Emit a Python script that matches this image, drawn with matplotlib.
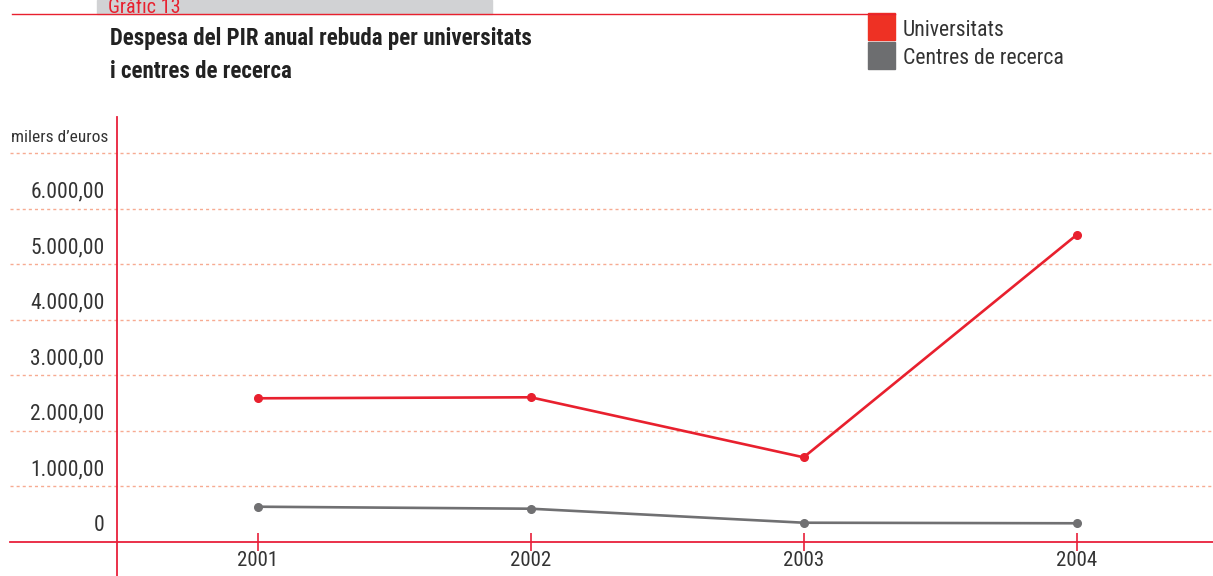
import matplotlib
matplotlib.use("Agg")
import matplotlib.pyplot as plt
from matplotlib import font_manager
from matplotlib.transforms import ScaledTranslation
from matplotlib.patches import Rectangle

# ---- data ----
years = ["2001", "2002", "2003", "2004"]
universitats = [2586, 2604, 1524, 5525]
centres = [635, 599, 347, 337]
ytick_values = [0, 1000, 2000, 3000, 4000, 5000, 6000]
ytick_labels = ["0", "1.000,00", "2.000,00", "3.000,00", "4.000,00", "5.000,00", "6.000,00"]
grid_values = [1000, 2000, 3000, 4000, 5000, 6000, 7000]
title = "Despesa del PIR anual rebuda per universitats\ni centres de recerca"
series_names = ["Universitats", "Centres de recerca"]

# ---- font ----
available = {f.name for f in font_manager.fontManager.ttflist}
family = "DejaVu Sans"
stretch = "condensed"
for cand in ["Roboto Condensed", "Liberation Sans Narrow", "Open Sans Condensed", "DejaVu Sans Condensed"]:
    if cand in available:
        family = cand
        stretch = "normal"
        break
plt.rcParams["font.family"] = [family, "DejaVu Sans"]
plt.rcParams["font.stretch"] = stretch

RED = "#e8202e"
AXRED = "#e8203a"
GREY = "#707072"
GRID = "#f7ab92"
TXT = "#333333"

W, H = 1213, 576
fig = plt.figure(figsize=(W / 100, H / 100), dpi=100)
ax = fig.add_axes([117 / W, (H - 542) / H, (W - 117) / W, (542 - 117) / H])

x = list(range(len(years)))
ax.set_xlim(-0.516, 3.5)
ax.set_ylim(0, 7648)

# gridlines extending left beyond the axis
ytr = ax.get_yaxis_transform()
x_left = (10 - 117) / (W - 117)
for v in grid_values:
    ax.plot([x_left, 1], [v, v], transform=ytr, clip_on=False, color=GRID,
            lw=1.0, dashes=(2.2, 2.2), zorder=1)
# baseline
ax.plot([x_left, 1], [0, 0], transform=ytr, clip_on=False, color=AXRED, lw=1.3, zorder=3)
# y axis line, extended down to the figure bottom
ax.plot([0, 0], [-(576 - 542) / (542 - 117), 1.0], transform=ax.transAxes,
        clip_on=False, color=AXRED, lw=1.3, zorder=3)

for s in ax.spines.values():
    s.set_visible(False)

ax.plot(x, universitats, color=RED, lw=1.9, marker="o", ms=5.5, zorder=5)
ax.plot(x, centres, color=GREY, lw=1.9, marker="o", ms=5.5, zorder=5)

ax.set_xticks(x)
ax.set_xticklabels(years, fontsize=15, color=TXT)
ax.tick_params(axis="x", direction="inout", length=13, width=1.2, color=AXRED, pad=0)

ax.set_yticks(ytick_values)
ax.set_yticklabels(ytick_labels, fontsize=15.5, color=TXT)
ax.tick_params(axis="y", length=0, pad=9)
for lab in ax.get_yticklabels():
    lab.set_transform(lab.get_transform() + ScaledTranslation(0, 0.19, fig.dpi_scale_trans))

fig.text(108 / W, 1 - 137 / H, "milers d\u2019euros", ha="right", va="center",
         fontsize=12.5, color=TXT)

# header
fig.patches.append(Rectangle((97 / W, 1 - 14 / H), (492 - 97) / W, 14 / H,
                             transform=fig.transFigure, color="#d1d2d4", zorder=0))
fig.text(108 / W, 1 - 13 / H, "Gràfic 13", ha="left", va="baseline", fontsize=14.5,
         color=RED, zorder=2)
fig.add_artist(plt.Line2D([12 / W, 895 / W], [1 - 14 / H, 1 - 14 / H],
                          transform=fig.transFigure, color=RED, lw=1.0))
fig.text(110 / W, 1 - 55 / H, title, ha="left", va="center", fontsize=16.5,
         fontweight="bold", color="#222222", linespacing=1.5)

# legend
fig.patches.append(Rectangle((868 / W, 1 - 40 / H), 27 / W, 27 / H,
                             transform=fig.transFigure, color="#ee3124"))
fig.patches.append(Rectangle((868 / W, 1 - 69 / H), 27 / W, 27 / H,
                             transform=fig.transFigure, color="#6d6e70"))
fig.text(903 / W, 1 - 30 / H, series_names[0], ha="left", va="center", fontsize=15.7, color=TXT)
fig.text(903 / W, 1 - 58 / H, series_names[1], ha="left", va="center", fontsize=15.7, color=TXT)

fig.savefig("out.png", dpi=100)
